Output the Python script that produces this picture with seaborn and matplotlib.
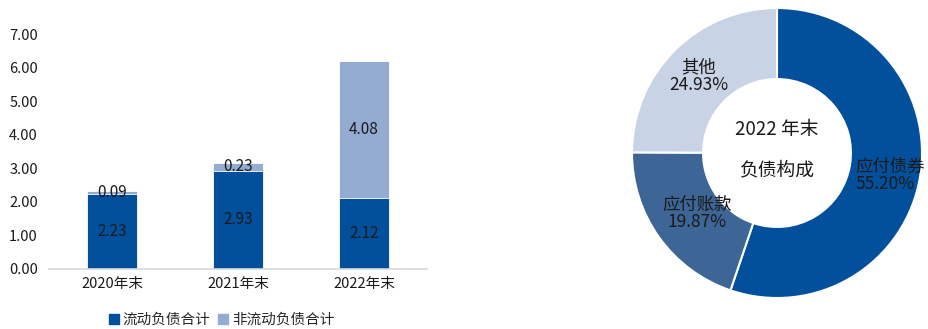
import matplotlib
matplotlib.use("Agg")
import matplotlib.pyplot as plt
import seaborn as sns
import pandas as pd
from matplotlib.lines import Line2D

# ---- data ----
years = ["2020年末", "2021年末", "2022年末"]
current_liab = [2.23, 2.93, 2.12]
noncurrent_liab = [0.09, 0.23, 4.08]
series_names = ["流动负债合计", "非流动负债合计"]

pie_labels = ["应付债券", "应付账款", "其他"]
pie_values = [55.20, 19.87, 24.93]
center_title = ["2022 年末", "负债构成"]

yticks = [0, 1, 2, 3, 4, 5, 6, 7]

# ---- style ----
sns.set_theme(style="white")
plt.rcParams['font.family'] = ['Noto Sans CJK SC', 'DejaVu Sans']

DARK = "#02509C"
LIGHT = "#94ACD1"
PIE_COLORS = ["#02509C", "#3D6595", "#C9D3E6"]
TXT = "#1a1a1a"

fig = plt.figure(figsize=(9.29, 3.29), dpi=100)

# ---- stacked bar chart ----
ax = fig.add_axes([49/929, (329-269)/329, (427-49)/929, (269-34)/329])
df = pd.DataFrame({"year": years, "cur": current_liab, "noncur": noncurrent_liab})
df["total"] = df["cur"] + df["noncur"]

sns.barplot(data=df, x="year", y="total", color=LIGHT, saturation=1, width=0.4,
            ax=ax, edgecolor="white", linewidth=0.6)
sns.barplot(data=df, x="year", y="cur", color=DARK, saturation=1, width=0.4,
            ax=ax, edgecolor="white", linewidth=0.6)

for i, (c, n) in enumerate(zip(current_liab, noncurrent_liab)):
    ax.text(i, c / 2, f"{c:.2f}", ha="center", va="center", fontsize=11, color=TXT)
    ax.text(i, c + n / 2, f"{n:.2f}", ha="center", va="center", fontsize=11, color=TXT)

ax.set_ylim(0, 7)
ax.set_xlim(-0.5, 2.5)
ax.set_yticks(yticks)
ax.set_yticklabels([f"{v:.2f}" for v in yticks])
ax.set_xlabel("")
ax.set_ylabel("")
ax.tick_params(axis="both", length=0, labelsize=10.5, colors=TXT)
ax.tick_params(axis="y", pad=8)
ax.tick_params(axis="x", pad=6)
for s in ["top", "right", "left"]:
    ax.spines[s].set_visible(False)
ax.spines["bottom"].set_color("#D9D9D9")
ax.spines["bottom"].set_linewidth(1.2)

handles = [Line2D([0], [0], marker="s", linestyle="none", markersize=7,
                  markerfacecolor=col, markeredgecolor=col) for col in (DARK, LIGHT)]
fig.legend(handles, series_names, loc="center", bbox_to_anchor=(221/929, 1 - 320/329),
           ncol=2, frameon=False, fontsize=10.5, handletextpad=0.2, columnspacing=0.5,
           handlelength=0.8, borderaxespad=0)

# ---- donut ----
R = 145
cx, cy = 777, 153
pax = fig.add_axes([(cx - R)/929, (329 - cy - R)/329, 2*R/929, 2*R/329])
pax.pie(pie_values, colors=PIE_COLORS, startangle=90, counterclock=False,
        radius=1, wedgeprops=dict(width=0.49, edgecolor="white", linewidth=1.5))
pax.set_xlim(-1, 1)
pax.set_ylim(-1, 1)
pax.set_aspect("equal")
pax.axis("off")

pax.text(0, (cy - 130)/R, center_title[0], ha="center", va="center", fontsize=13.5, color=TXT)
pax.text(0, (cy - 170)/R, center_title[1], ha="center", va="center", fontsize=13.5, color=TXT)

label_pos = [((855 - cx)/R, (cy - 175)/R, "left"),
             ((697 - cx)/R, (cy - 213)/R, "center"),
             ((699 - cx)/R, (cy - 76)/R, "center")]
for (x, y, ha), lab, val in zip(label_pos, pie_labels, pie_values):
    pax.text(x, y, f"{lab}\n{val:.2f}%", ha=ha, va="center", fontsize=12.5,
             color=TXT, linespacing=0.95, clip_on=False)

fig.savefig("out.png", dpi=100)
